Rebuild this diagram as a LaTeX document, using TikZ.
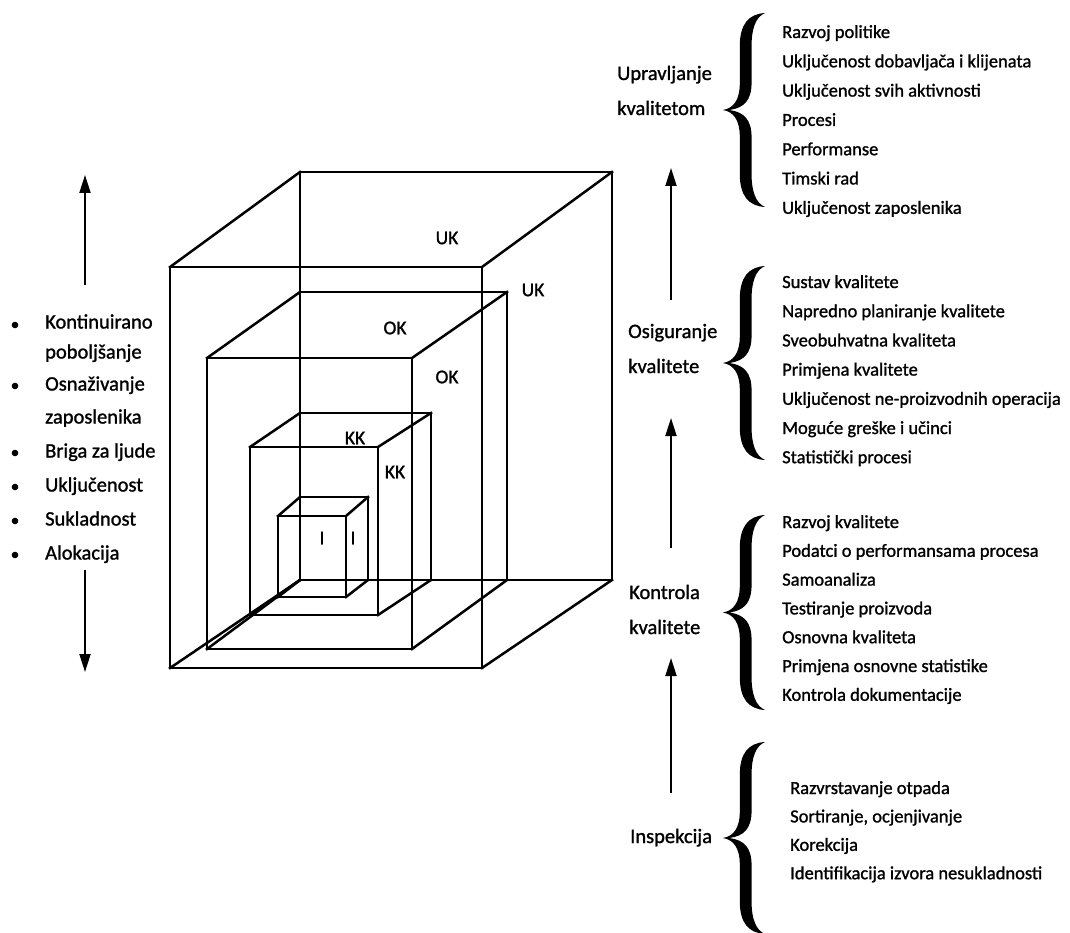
\documentclass[tikz,border=0pt]{standalone}
\usepackage{fontspec}
\setmainfont[FakeBold=1.2]{Carlito}
\usetikzlibrary{arrows.meta}
\newcommand\drawcube[8]{%
  \draw[edge] (#1,#2) rectangle (#3,#4);
  \draw[edge] (#5,#6) rectangle (#7,#8);
  \draw[edge] (#1,#2) -- (#5,#6) (#3,#2) -- (#7,#6) (#1,#4) -- (#5,#8) (#3,#4) -- (#7,#8);
}
\newcommand\curlyb[3]{% tip x, top y, bottom y
  \begin{scope}[shift={(#1,#2)}, xscale=42, yscale=#3-#2]
    \fill (1,0) .. controls (0.6,0.005) and (0.4,0.06) .. (0.4,0.17)
      -- (0.4,0.36) .. controls (0.4,0.45) and (0.25,0.49) .. (0,0.5)
      .. controls (0.25,0.51) and (0.4,0.55) .. (0.4,0.64)
      -- (0.4,0.83) .. controls (0.4,0.94) and (0.6,0.995) .. (1,1)
      .. controls (0.78,0.98) and (0.68,0.92) .. (0.68,0.83)
      -- (0.68,0.64) .. controls (0.68,0.55) and (0.5,0.51) .. (0.15,0.5)
      .. controls (0.5,0.49) and (0.68,0.45) .. (0.68,0.36)
      -- (0.68,0.17) .. controls (0.68,0.08) and (0.78,0.02) .. (1,0) -- cycle;
  \end{scope}}
\begin{document}
\begin{tikzpicture}[x=1pt,y=-1pt,
  edge/.style={line width=2.5pt, line join=miter, line cap=rect},
  lbl/.style={font=\fontsize{19.5}{19.5}\selectfont, inner sep=0pt},
  lst/.style={font=\fontsize{20.5}{20.5}\selectfont, anchor=base west, inner sep=0pt},
  itm/.style={font=\fontsize{18.5}{18.5}\selectfont, anchor=base west, inner sep=0pt},
  head/.style={font=\fontsize{20.5}{20.5}\selectfont, anchor=base west, inner sep=0pt},
  arr/.style={line width=2pt, -{Triangle[length=18pt,width=11pt]}}]
\useasboundingbox[fill=white] (0,0) rectangle (1070,933);

% cubes
\drawcube{170}{267}{482}{668}{300}{172}{612}{580}
\drawcube{207}{358}{412}{649}{300}{292}{507}{580}
\drawcube{250}{447}{378}{615}{300}{413}{431}{580}
\drawcube{278}{516}{346}{597}{300}{497}{368}{580}

\node[lbl] (uk1) at (447,238) {UK};
\node[lbl] (uk2) at (533,290) {UK};
\node[lbl] (ok1) at (395,328) {OK};
\node[lbl] (ok2) at (447,377) {OK};
\node[lbl] (kk1) at (355,438) {KK};
\node[lbl] (kk2) at (395,472) {KK};
\node[lbl] (i1) at (322,538) {I};
\node[lbl] (i2) at (353,538) {I};

% left list
\foreach \y in {325,386,453,487,521,555} \fill (15,\y) circle (3.3);
\node[lst] (l1) at (45,328.5) {Kontinuirano};
\node[lst] (l1b) at (45,358.5) {poboljšanje};
\node[lst] (l2) at (45,390.5) {Osnaživanje};
\node[lst] (l2b) at (45,423.5) {zaposlenika};
\node[lst] (l3) at (45,457.5) {Briga za ljude};
\node[lst] (l4) at (45,491.5) {Uključenost};
\node[lst] (l5) at (45,525.5) {Sukladnost};
\node[lst] (l6) at (45,559.5) {Alokacija};

\coordinate (lu1) at (85,285); \coordinate (lu2) at (85,175);
\coordinate (ld1) at (85,570); \coordinate (ld2) at (85,672);
\draw[arr] (lu1) -- (lu2);
\draw[arr] (ld1) -- (ld2);

% right heads
\node[head] (h1a) at (617,80) {Upravljanje};
\node[head] (h1b) at (617,115) {kvalitetom};
\node[head] (h2a) at (628,338) {Osiguranje};
\node[head] (h2b) at (628,373) {kvalitete};
\node[head] (h3a) at (629,599) {Kontrola};
\node[head] (h3b) at (629,634) {kvalitete};
\node[head] (h4) at (630,843) {Inspekcija};

\coordinate (a1s) at (671,300); \coordinate (a1e) at (671,168);
\coordinate (a2s) at (671,548); \coordinate (a2e) at (671,418);
\coordinate (a3s) at (671,793); \coordinate (a3e) at (671,658);
\draw[arr] (a1s) -- (a1e);
\draw[arr] (a2s) -- (a2e);
\draw[arr] (a3s) -- (a3e);

% braces
\curlyb{723}{13}{207}
\curlyb{723}{266}{460}
\curlyb{723}{515}{710}
\curlyb{723}{742}{934}

% items
\foreach \t [count=\i from 0] in {Razvoj politike, Uključenost dobavljača i klijenata, Uključenost svih aktivnosti, Procesi, Performanse, Timski rad, Uključenost zaposlenika}
  \node[itm] (ga\i) at (782,38+29.3*\i) {\t};
\foreach \t [count=\i from 0] in {Sustav kvalitete, Napredno planiranje kvalitete, Sveobuhvatna kvaliteta, Primjena kvalitete, Uključenost ne-proizvodnih operacija, Moguće greške i učinci, Statistički procesi}
  \node[itm] (gb\i) at (782,288+29.2*\i) {\t};
\foreach \t [count=\i from 0] in {Razvoj kvalitete, Podatci o performansama procesa, Samoanaliza, Testiranje proizvoda, Osnovna kvaliteta, Primjena osnovne statistike, Kontrola dokumentacije}
  \node[itm] (gc\i) at (782,528+28.8*\i) {\t};
\foreach \t [count=\i from 0] in {Razvrstavanje otpada, {Sortiranje, ocjenjivanje}, Korekcija, Identifikacija izvora nesukladnosti}
  \node[itm] (gd\i) at (790,794+28.4*\i) {\t};
\end{tikzpicture}
\end{document}
